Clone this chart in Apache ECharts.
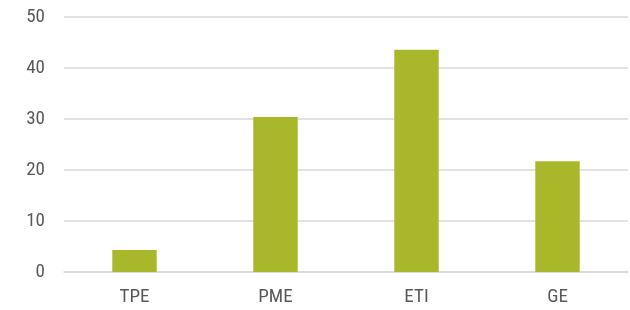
<!DOCTYPE html>
<html><head><meta charset="utf-8">
<script src="https://cdn.jsdelivr.net/npm/echarts@6/dist/echarts.min.js"></script>
<style>html,body{margin:0;padding:0;background:#fff}#c{width:630px;height:310px}</style>
</head><body><div id="c"></div>
<script>
const categories = ["TPE", "PME", "ETI", "GE"];
const values = [4.3, 30.4, 43.6, 21.7];
const yTicks = [0, 10, 20, 30, 40, 50];

const font = "'Liberation Sans Narrow', 'Roboto Condensed', 'Liberation Sans', sans-serif";
const chart = echarts.init(document.getElementById('c'), null, {renderer: 'canvas'});
chart.setOption({
  animation: false,
  grid: {left: 64, right: 2, top: 17, bottom: 38, containLabel: false},
  xAxis: {
    type: 'category', data: categories,
    axisLine: {show: true, lineStyle: {color: '#d9d9d9', width: 1.5}},
    axisTick: {show: false},
    axisLabel: {color: '#595959', fontSize: 19, fontFamily: font, margin: 16}
  },
  yAxis: {
    type: 'value', min: yTicks[0], max: yTicks[yTicks.length - 1], interval: 10,
    axisLine: {show: false}, axisTick: {show: false},
    splitLine: {lineStyle: {color: '#d9d9d9', width: 1.5}},
    axisLabel: {color: '#595959', fontSize: 19, fontFamily: font, margin: 19}
  },
  series: [{
    type: 'bar', data: values, barWidth: '31.5%',
    itemStyle: {color: '#a8b82a'}
  }]
});
</script></body></html>
